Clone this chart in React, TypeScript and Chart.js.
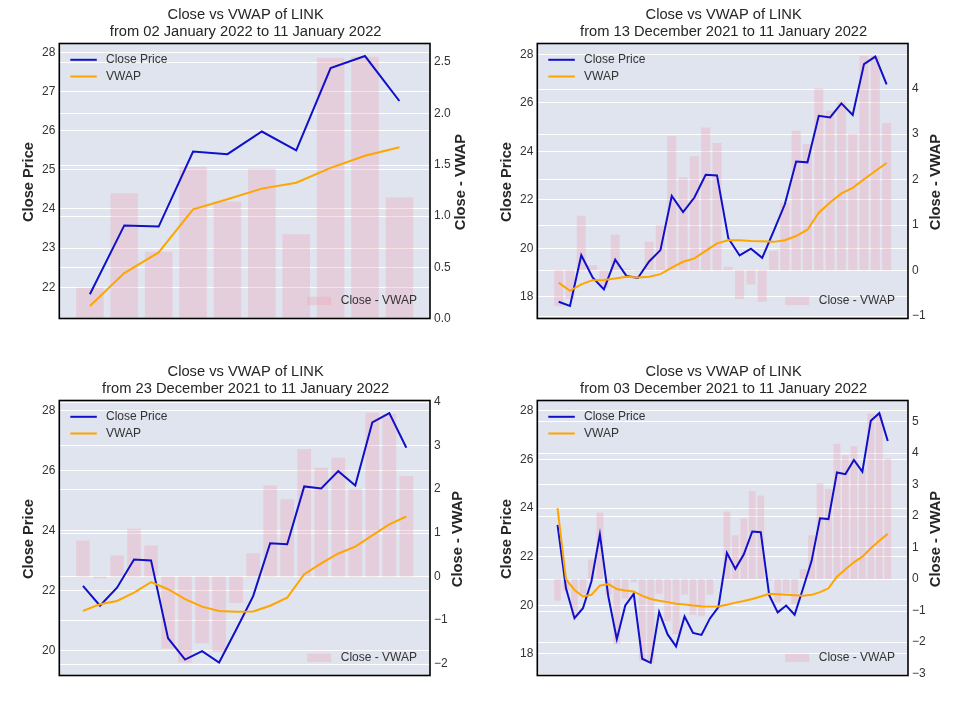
import React, { useEffect, useRef } from "react";
import { Chart, registerables } from "chart.js";

Chart.register(...registerables);
Chart.defaults.font.family = '"Liberation Sans", Arial, Helvetica, sans-serif';

// ---- data ----
const dates = [
  "2021-12-03", "2021-12-04", "2021-12-05", "2021-12-06", "2021-12-07",
  "2021-12-08", "2021-12-09", "2021-12-10", "2021-12-11", "2021-12-12",
  "2021-12-13", "2021-12-14", "2021-12-15", "2021-12-16", "2021-12-17",
  "2021-12-18", "2021-12-19", "2021-12-20", "2021-12-21", "2021-12-22",
  "2021-12-23", "2021-12-24", "2021-12-25", "2021-12-26", "2021-12-27",
  "2021-12-28", "2021-12-29", "2021-12-30", "2021-12-31", "2022-01-01",
  "2022-01-02", "2022-01-03", "2022-01-04", "2022-01-05", "2022-01-06",
  "2022-01-07", "2022-01-08", "2022-01-09", "2022-01-10", "2022-01-11",
];

const closePrice = [
  23.31, 20.7, 19.47, 19.88, 20.98, 22.92, 20.36, 18.6, 19.99, 20.47,
  17.8, 17.63, 19.72, 18.8, 18.31, 19.54, 18.86, 18.78, 19.46, 19.93,
  22.16, 21.5, 22.1, 23.04, 23.01, 20.42, 19.71, 19.99, 19.61, 20.7,
  21.82, 23.58, 23.55, 25.47, 25.4, 25.98, 25.5, 27.6, 27.91, 26.76,
];

// VWAP and Close - VWAP for each look-back window
const vwap10 = [21.52, 22.36, 22.89, 23.99, 24.25, 24.52, 24.67, 25.05, 25.36, 25.58];
const diff10 = [0.3, 1.22, 0.65, 1.48, 1.14, 1.46, 0.82, 2.54, 2.55, 1.18];

const vwap30 = [
  18.59, 18.25, 18.52, 18.69, 18.7, 18.76, 18.83, 18.8, 18.83, 18.94,
  19.21, 19.45, 19.59, 19.9, 20.21, 20.34, 20.34, 20.31, 20.3, 20.27,
  20.34, 20.51, 20.77, 21.47, 21.89, 22.27, 22.5, 22.85, 23.19, 23.52,
];
const diff30 = [
  -0.79, -0.62, 1.2, 0.11, -0.39, 0.78, 0.03, -0.02, 0.63, 0.99,
  2.95, 2.05, 2.51, 3.14, 2.8, 0.08, -0.63, -0.31, -0.69, 0.43,
  1.48, 3.07, 2.78, 4.0, 3.51, 3.71, 3.0, 4.72, 4.72, 3.24,
];

const vwap20 = [
  21.33, 21.55, 21.66, 21.94, 22.29, 22.05, 21.72, 21.47, 21.33, 21.3,
  21.31, 21.5, 21.77, 22.55, 22.91, 23.24, 23.47, 23.84, 24.21, 24.47,
];
const diff20 = [
  0.82, -0.04, 0.48, 1.09, 0.71, -1.65, -1.98, -1.53, -1.73, -0.61,
  0.53, 2.08, 1.77, 2.92, 2.49, 2.72, 2.01, 3.75, 3.72, 2.3,
];

const vwap40 = [
  24.0, 21.07, 20.63, 20.36, 20.43, 20.81, 20.87, 20.67, 20.61, 20.57,
  20.39, 20.26, 20.19, 20.13, 20.06, 20.03, 19.99, 19.96, 19.95, 19.95,
  20.02, 20.11, 20.18, 20.26, 20.36, 20.47, 20.45, 20.43, 20.41, 20.39,
  20.43, 20.54, 20.7, 21.18, 21.48, 21.77, 22.0, 22.35, 22.66, 22.94,
];
const diff40 = [
  -0.69, -0.37, -1.16, -0.48, 0.62, 2.11, -0.51, -2.07, -0.62, -0.1,
  -2.59, -2.66, -0.47, -1.33, -1.75, -0.49, -1.13, -1.18, -0.49, -0.02,
  2.14, 1.39, 1.92, 2.78, 2.65, -0.05, -0.74, -0.44, -0.8, 0.31,
  1.39, 3.04, 2.85, 4.29, 3.92, 4.21, 3.5, 5.25, 5.25, 3.82,
];

const startLabels = ["02 January 2022", "13 December 2021", "23 December 2021", "03 December 2021"];
const endLabel = "11 January 2022";

const leftTicks1 = [22, 23, 24, 25, 26, 27, 28];
const leftTicks2 = [18, 20, 22, 24, 26, 28];
const leftTicks3 = [20, 22, 24, 26, 28];
const leftTicks4 = [18, 20, 22, 24, 26, 28];
const rightTicks1 = [0, 0.5, 1, 1.5, 2, 2.5];
const rightTicks2 = [-1, 0, 1, 2, 3, 4];
const rightTicks3 = [-2, -1, 0, 1, 2, 3, 4];
const rightTicks4 = [-3, -2, -1, 0, 1, 2, 3, 4, 5];

// ---- styling ----
const BG = "#dfe4ee";
const BLUE = "#1010c8";
const ORANGE = "#ffa500";
const BAR = "rgba(240,165,185,0.36)";
const TEXT = "#262626";
const TICK = "#333333";
const FONT = '"Liberation Sans", Arial, sans-serif';

const CW = 477;
const CH = 352;
const AREA_LEFT = 59.3;
const AREA_RIGHT = 430;
const AREA_TOP = 43.5;
const AREA_BOTTOM = 318.5;

type Spec = {
  start: string;
  n: number;
  vwap: number[];
  diff: number[];
  yMin: number;
  yMax: number;
  yTicks: number[];
  y1Min: number;
  y1Max: number;
  y1Ticks: number[];
  y1Dec: number;
};

const specs: Spec[] = [
  { start: startLabels[0], n: 10, vwap: vwap10, diff: diff10, yMin: 21.2, yMax: 28.23, yTicks: leftTicks1, y1Min: 0, y1Max: 2.68, y1Ticks: rightTicks1, y1Dec: 1 },
  { start: startLabels[1], n: 30, vwap: vwap30, diff: diff30, yMin: 17.11, yMax: 28.45, yTicks: leftTicks2, y1Min: -1.06, y1Max: 4.99, y1Ticks: rightTicks2, y1Dec: 0 },
  { start: startLabels[2], n: 20, vwap: vwap20, diff: diff20, yMin: 19.18, yMax: 28.33, yTicks: leftTicks3, y1Min: -2.27, y1Max: 4.03, y1Ticks: rightTicks3, y1Dec: 0 },
  { start: startLabels[3], n: 40, vwap: vwap40, diff: diff40, yMin: 17.11, yMax: 28.43, yTicks: leftTicks4, y1Min: -3.06, y1Max: 5.66, y1Ticks: rightTicks4, y1Dec: 0 },
];

const positions = [
  { left: 0, top: 0 },
  { left: 478, top: 0 },
  { left: 0, top: 357 },
  { left: 478, top: 357 },
];

function fmt(v: number, dec: number) {
  const s = Math.abs(v).toFixed(dec);
  return v < 0 ? "\u2212" + s : s;
}

function makeDecor(spec: Spec) {
  return {
    id: "decor",
    beforeDraw(chart: any) {
      const { ctx, chartArea: a } = chart;
      ctx.save();
      ctx.fillStyle = BG;
      ctx.fillRect(a.left, a.top, a.right - a.left, a.bottom - a.top);
      ctx.restore();
    },
    beforeDatasetsDraw(chart: any) {
      const { ctx, chartArea: a } = chart;
      ctx.save();
      // grid of the secondary axis
      const s = chart.scales.y1;
      ctx.strokeStyle = "#ffffff";
      ctx.lineWidth = 1;
      for (const t of s.ticks) {
        const y = Math.round(s.getPixelForValue(t.value)) + 0.5;
        ctx.beginPath();
        ctx.moveTo(a.left, y);
        ctx.lineTo(a.right, y);
        ctx.stroke();
      }
      ctx.restore();
    },
    afterDraw(chart: any) {
      const { ctx, chartArea: a } = chart;
      ctx.save();
      // legend of the price lines
      const rows = [
        { label: "Close Price", color: BLUE, y: a.top + 16.3 },
        { label: "VWAP", color: ORANGE, y: a.top + 33 },
      ];
      ctx.font = `12px ${FONT}`;
      ctx.textBaseline = "middle";
      ctx.textAlign = "left";
      for (const r of rows) {
        ctx.strokeStyle = r.color;
        ctx.lineWidth = 2;
        ctx.beginPath();
        ctx.moveTo(a.left + 11, r.y);
        ctx.lineTo(a.left + 37.5, r.y);
        ctx.stroke();
        ctx.fillStyle = TICK;
        ctx.fillText(r.label, a.left + 46.7, r.y);
      }

      // bar legend
      ctx.textAlign = "right";
      const ly = a.bottom - 17.6;
      const tr = a.right - 13;
      const label = "Close - VWAP";
      const tw = ctx.measureText(label).width;
      ctx.fillStyle = TICK;
      ctx.fillText(label, tr, ly);
      const pr = tr - tw - 9.6;
      ctx.fillStyle = BAR;
      ctx.fillRect(pr - 24, ly - 4.2, 24, 8.4);

      // frame
      ctx.strokeStyle = "#000000";
      ctx.lineWidth = 1.6;
      ctx.strokeRect(a.left, a.top, a.right - a.left, a.bottom - a.top);

      // title
      const cx = (a.left + a.right) / 2;
      ctx.fillStyle = TEXT;
      ctx.textAlign = "center";
      ctx.font = `14.7px ${FONT}`;
      ctx.fillText("Close vs VWAP of LINK", cx + 1, 15.3);
      ctx.fillText(`from ${spec.start} to ${endLabel}`, cx + 1, 31.6);

      // axis titles
      const cy = (a.top + a.bottom) / 2;
      ctx.font = `bold 14.7px ${FONT}`;
      ctx.save();
      ctx.translate(a.left - 30, cy + 1);
      ctx.rotate(-Math.PI / 2);
      ctx.fillText("Close Price", 0, 0);
      ctx.restore();

      ctx.font = `12px ${FONT}`;
      let maxW = 0;
      for (const t of chart.scales.y1.ticks) {
        maxW = Math.max(maxW, ctx.measureText(String(t.label)).width);
      }
      ctx.font = `bold 14.7px ${FONT}`;
      ctx.save();
      ctx.translate(a.right + 4 + maxW + 10.5, cy + 1);
      ctx.rotate(-Math.PI / 2);
      ctx.fillText("Close - VWAP", 0, 0);
      ctx.restore();
      ctx.restore();
    },
  };
}

function Panel({ spec, left, top }: { spec: Spec; left: number; top: number }) {
  const ref = useRef<HTMLCanvasElement | null>(null);
  useEffect(() => {
    if (!ref.current) return;
    const n = spec.n;
    const closeSlice = closePrice.slice(closePrice.length - n);
    const dateSlice = dates.slice(dates.length - n);
    const xs = dateSlice.map((_, i) => i);
    const margin = 0.4 + 0.05 * (n - 0.2);

    const chart = new Chart(ref.current, {
      type: "bar",
      data: {
        datasets: [
          {
            type: "bar",
            label: "Close - VWAP",
            data: spec.diff.map((v, i) => ({ x: xs[i], y: v })),
            backgroundColor: BAR,
            borderWidth: 0,
            yAxisID: "y1",
            xAxisID: "x",
            barPercentage: 0.8,
            categoryPercentage: 1,
            order: 3,
          } as any,
          {
            type: "line",
            label: "Close Price",
            data: closeSlice.map((v, i) => ({ x: xs[i], y: v })),
            borderColor: BLUE,
            borderWidth: 2,
            pointRadius: 0,
            tension: 0,
            fill: false,
            yAxisID: "y",
            xAxisID: "x",
            order: 2,
          } as any,
          {
            type: "line",
            label: "VWAP",
            data: spec.vwap.map((v, i) => ({ x: xs[i], y: v })),
            borderColor: ORANGE,
            borderWidth: 2,
            pointRadius: 0,
            tension: 0,
            fill: false,
            yAxisID: "y",
            xAxisID: "x",
            order: 1,
          } as any,
        ],
      },
      options: {
        animation: false,
        responsive: true,
        maintainAspectRatio: false,
        layout: { padding: { top: AREA_TOP, bottom: CH - AREA_BOTTOM, left: 0, right: 0 } },
        plugins: {
          legend: { display: false },
          title: { display: false },
          tooltip: { enabled: false },
        },
        scales: {
          x: {
            type: "linear",
            display: false,
            offset: false,
            min: -margin,
            max: n - 1 + margin,
            grid: { display: false },
            afterBuildTicks: (s: any) => {
              s.ticks = xs.map((v) => ({ value: v }));
            },
          },
          y: {
            type: "linear",
            position: "left",
            min: spec.yMin,
            max: spec.yMax,
            afterBuildTicks: (s: any) => {
              s.ticks = spec.yTicks.map((v) => ({ value: v }));
            },
            afterFit: (s: any) => {
              s.width = AREA_LEFT;
            },
            grid: { color: "#ffffff", lineWidth: 1, drawTicks: false },
            border: { display: false },
            ticks: {
              color: TICK,
              font: { size: 12 },
              padding: 4,
              autoSkip: false,
              callback: (v: any) => fmt(Number(v), 0),
            },
          },
          y1: {
            type: "linear",
            position: "right",
            min: spec.y1Min,
            max: spec.y1Max,
            afterBuildTicks: (s: any) => {
              s.ticks = spec.y1Ticks.map((v) => ({ value: v }));
            },
            afterFit: (s: any) => {
              s.width = CW - AREA_RIGHT;
            },
            grid: { display: false, drawTicks: false },
            border: { display: false },
            ticks: {
              color: TICK,
              font: { size: 12 },
              padding: 4,
              autoSkip: false,
              callback: (v: any) => fmt(Number(v), spec.y1Dec),
            },
          },
        },
      } as any,
      plugins: [makeDecor(spec) as any],
    });
    return () => chart.destroy();
  }, [spec]);

  return (
    <div style={{ position: "absolute", left, top, width: CW, height: CH }}>
      <canvas ref={ref} />
    </div>
  );
}

export default function App() {
  return (
    <div style={{ position: "absolute", left: 0, top: 0, width: 955, height: 716, background: "#ffffff" }}>
      {specs.map((s, i) => (
        <Panel key={i} spec={s} left={positions[i].left} top={positions[i].top} />
      ))}
    </div>
  );
}
